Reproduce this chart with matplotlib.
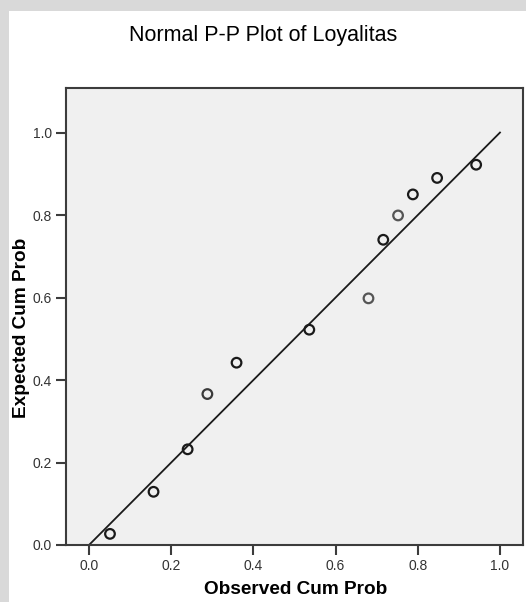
import matplotlib
matplotlib.use("Agg")
import matplotlib.pyplot as plt
from matplotlib.patches import Rectangle

plt.rcParams['font.family'] = ['Liberation Sans', 'DejaVu Sans']

# Data
observed_cum_prob = [0.051, 0.157, 0.240, 0.288, 0.359, 0.536, 0.680, 0.716, 0.752, 0.788, 0.847, 0.942]
expected_cum_prob = [0.027, 0.129, 0.232, 0.366, 0.442, 0.522, 0.598, 0.740, 0.799, 0.850, 0.890, 0.922]
point_shade = ['#1a1a1a', '#1a1a1a', '#1a1a1a', '#3a3a3a', '#1a1a1a', '#1a1a1a',
               '#555555', '#1a1a1a', '#555555', '#1a1a1a', '#1a1a1a', '#1a1a1a']
tick_values = [0.0, 0.2, 0.4, 0.6, 0.8, 1.0]
tick_labels = ['0.0', '0.2', '0.4', '0.6', '0.8', '1.0']
reference_line = [0.0, 1.0]

W, H = 526, 602
fig = plt.figure(figsize=(W / 100, H / 100), dpi=100)
fig.patch.set_facecolor('#d9d9d9')
fig.patches.append(Rectangle((9 / W, 0), 1 - 9 / W, 1 - 11 / H, transform=fig.transFigure,
                             facecolor='white', edgecolor='none', zorder=-10))

ax_left, ax_right, ax_top, ax_bottom = 66, 523, 88, 545
ax = fig.add_axes([ax_left / W, 1 - ax_bottom / H, (ax_right - ax_left) / W, (ax_bottom - ax_top) / H])
ax.set_zorder(1)
ax.set_facecolor('#f0f0f0')

ax.plot(reference_line, reference_line, color='#1a1a1a', lw=1.3, zorder=2)
ax.scatter(observed_cum_prob, expected_cum_prob, s=48, facecolors='none',
           edgecolors=point_shade, linewidths=1.6, zorder=3)

ax.set_xlim(-0.056, 1.056)
ax.set_ylim(0.0, 1.108)
ax.set_xticks(tick_values)
ax.set_xticklabels(tick_labels)
ax.set_yticks(tick_values)
ax.set_yticklabels(tick_labels)

for sp in ax.spines.values():
    sp.set_color('#3c3c3c')
    sp.set_linewidth(1.5)

ax.tick_params(axis='both', direction='out', length=7, width=1.5, color='#3c3c3c',
               labelsize=10, labelcolor='#333333', pad=3)

ax.set_xlabel('Observed Cum Prob', fontsize=13.7, fontweight='bold', color='black')
ax.set_ylabel('Expected Cum Prob', fontsize=13.7, fontweight='bold', color='black')
ax.xaxis.set_label_coords((295.5 - ax_left) / (ax_right - ax_left), -(590 - ax_bottom) / (ax_bottom - ax_top))
ax.yaxis.set_label_coords(-(ax_left - 22) / (ax_right - ax_left), (ax_bottom - 327.5) / (ax_bottom - ax_top))
ax.xaxis.label.set_va('center')
ax.yaxis.label.set_va('center')

fig.text(263.5 / W, 1 - 36 / H, 'Normal P-P Plot of Loyalitas', ha='center', va='center',
         fontsize=15.5, color='black')

fig.savefig('out.png', dpi=100, facecolor=fig.get_facecolor())
